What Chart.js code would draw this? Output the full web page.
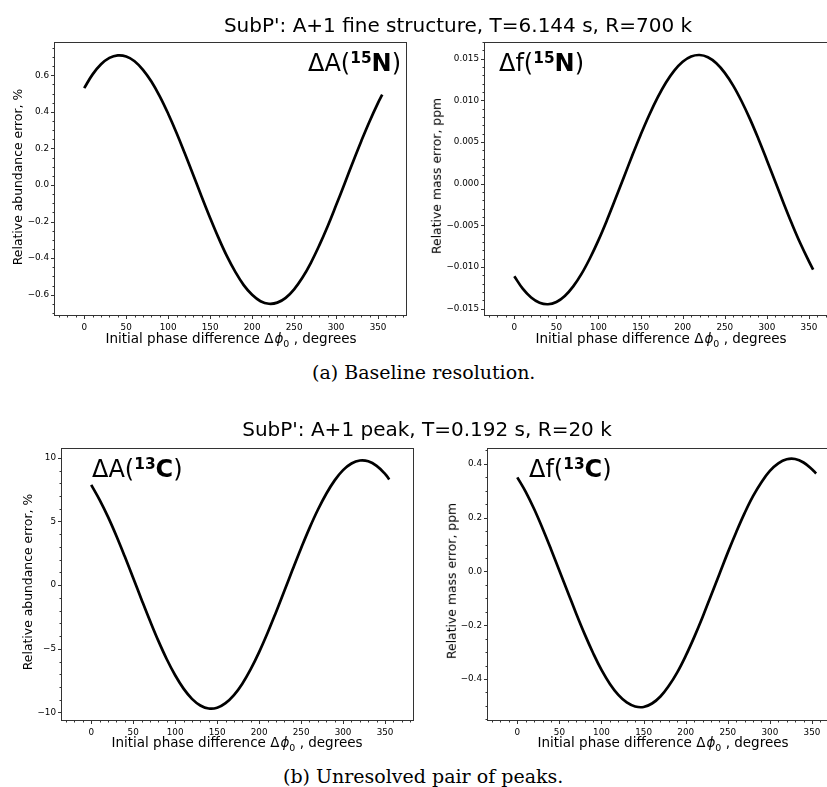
<!DOCTYPE html>
<html>
<head>
<meta charset="utf-8">
<script src="https://cdn.jsdelivr.net/npm/chart.js@4.4.0/dist/chart.umd.min.js"></script>
<style>
  html, body { margin: 0; padding: 0; background: #fff; overflow: hidden; }
  #page { position: relative; width: 827px; height: 787px; overflow: hidden;
          font-family: "DejaVu Sans", sans-serif; color: #000; background: #fff; }
  #page canvas { position: absolute; }
  .t { position: absolute; white-space: nowrap; line-height: 1; }
  .ttl { font-size: 20px; transform: translate(-50%, -50%); }
  .cap { font-family: "DejaVu Serif", serif; font-size: 19px; transform: translateY(-50%); }
  .xl { font-size: 13.5px; transform: translate(-50%, -50%); }
  .yl { font-size: 12.4px; transform: translate(-50%, -50%) rotate(-90deg); }
  .ann { font-size: 24px; transform: translateY(-50%); }
  .ann sup { font-size: 0.64em; font-weight: bold; vertical-align: 0.5em; line-height: 0; }
  .ann b { font-weight: bold; }
  .xl sub { font-size: 0.7em; vertical-align: -0.35em; line-height: 0; }
  .xl i { font-style: italic; padding-left: 1px; }
</style>
</head>
<body>
<div id="page">
  <div class="t ttl" style="left:458px; top:25px;">SubP': A+1 fine structure, T=6.144 s, R=700 k</div>
  <div class="t cap" style="left:312px; top:372px;">(a) Baseline resolution.</div>
  <div class="t ttl" style="left:427px; top:429px;">SubP': A+1 peak, T=0.192 s, R=20 k</div>
  <div class="t cap" style="left:283px; top:776px;">(b) Unresolved pair of peaks.</div>

  <div class="t xl" style="left:231px; top:339px;">Initial phase difference Δ<i>ϕ</i><sub>0</sub> , degrees</div>
  <div class="t xl" style="left:661px; top:339px;">Initial phase difference Δ<i>ϕ</i><sub>0</sub> , degrees</div>
  <div class="t xl" style="left:237px; top:743px;">Initial phase difference Δ<i>ϕ</i><sub>0</sub> , degrees</div>
  <div class="t xl" style="left:663px; top:743px;">Initial phase difference Δ<i>ϕ</i><sub>0</sub> , degrees</div>

  <div class="t yl" style="left:18px; top:177px;">Relative abundance error, %</div>
  <div class="t yl" style="left:437px; top:176px;">Relative mass error, ppm</div>
  <div class="t yl" style="left:28px; top:582px;">Relative abundance error, %</div>
  <div class="t yl" style="left:452px; top:581px;">Relative mass error, ppm</div>

  <div class="t ann" style="left:308px; top:63px;">ΔA(<sup>15</sup><b>N</b>)</div>
  <div class="t ann" style="left:499px; top:63px;">Δf(<sup>15</sup><b>N</b>)</div>
  <div class="t ann" style="left:92px; top:469px;">ΔA(<sup>13</sup><b>C</b>)</div>
  <div class="t ann" style="left:529px; top:469px;">Δf(<sup>13</sup><b>C</b>)</div>
</div>

<script>
// Initial phase difference, degrees
const phaseDeg = [0, 10, 20, 30, 40, 50, 60, 70, 80, 90, 100, 110, 120, 130, 140, 150, 160, 170,
                  180, 190, 200, 210, 220, 230, 240, 250, 260, 270, 280, 290, 300, 310, 320, 330, 340, 350, 355];

// A+1 fine structure (15N), relative abundance error, %
const abundanceErrN15 = [0.530, 0.605, 0.660, 0.695, 0.709, 0.703, 0.677, 0.630, 0.566, 0.485, 0.390, 0.285,
                         0.171, 0.054, -0.065, -0.180, -0.289, -0.389, -0.475, -0.547, -0.600, -0.635, -0.649,
                         -0.643, -0.617, -0.570, -0.506, -0.425, -0.330, -0.225, -0.111, 0.006, 0.125, 0.240,
                         0.349, 0.449, 0.494];

// A+1 fine structure (15N), relative mass error, ppm
const massErrN15 = [-0.01110, -0.01259, -0.01365, -0.01428, -0.01446, -0.01419, -0.01347, -0.01232, -0.01079,
                    -0.00891, -0.00676, -0.00438, -0.00184, 0.00076, 0.00336, 0.00586, 0.00820, 0.01031,
                    0.01213, 0.01359, 0.01465, 0.01528, 0.01546, 0.01519, 0.01447, 0.01332, 0.01179, 0.00991,
                    0.00776, 0.00538, 0.00284, 0.00025, -0.00236, -0.00486, -0.00720, -0.00931, -0.01030];

// A+1 unresolved peak (13C), relative abundance error, %
const abundanceErrC13 = [7.88, 6.70, 5.36, 3.86, 2.24, 0.56, -1.14, -2.80, -4.38, -5.82, -7.08, -8.13, -8.93,
                         -9.45, -9.69, -9.63, -9.27, -8.64, -7.74, -6.60, -5.26, -3.76, -2.14, -0.46, 1.24,
                         2.90, 4.48, 5.92, 7.18, 8.23, 9.03, 9.55, 9.79, 9.73, 9.37, 8.74, 8.30];

// A+1 unresolved peak (13C), relative mass error, ppm
const massErrC13 = [0.350, 0.296, 0.232, 0.160, 0.083, 0.003, -0.077, -0.157, -0.233, -0.303, -0.366, -0.418,
                    -0.459, -0.487, -0.502, -0.504, -0.491, -0.465, -0.425, -0.375, -0.314, -0.245, -0.170,
                    -0.090, -0.010, 0.070, 0.146, 0.217, 0.280, 0.332, 0.374, 0.402, 0.417, 0.418, 0.405,
                    0.380, 0.364];

// Tick values and labels
const phaseTicks = [0, 50, 100, 150, 200, 250, 300, 350];
const phaseTickLabels = ['0', '50', '100', '150', '200', '250', '300', '350'];
const abundN15Ticks = [-0.6, -0.4, -0.2, 0, 0.2, 0.4, 0.6];
const abundN15TickLabels = ['\u22120.6', '\u22120.4', '\u22120.2', '0.0', '0.2', '0.4', '0.6'];
const massN15Ticks = [-0.015, -0.010, -0.005, 0, 0.005, 0.010, 0.015];
const massN15TickLabels = ['\u22120.015', '\u22120.010', '\u22120.005', '0.000', '0.005', '0.010', '0.015'];
const abundC13Ticks = [-10, -5, 0, 5, 10];
const abundC13TickLabels = ['\u221210', '\u22125', '0', '5', '10'];
const massC13Ticks = [-0.4, -0.2, 0, 0.2, 0.4];
const massC13TickLabels = ['\u22120.4', '\u22120.2', '0.0', '0.2', '0.4'];

Chart.defaults.font.family = '"DejaVu Sans", sans-serif';

const Y_AXIS_W = 54;   // room for the y tick labels
const X_AXIS_H = 22;   // room for the x tick labels
const PAD_TOP = 12;

// Axes frame plus matplotlib-style major/minor tick marks
const frameTicks = {
  id: 'frameTicks',
  afterDraw(chart, args, opts) {
    const { ctx, chartArea: a, scales: { x, y } } = chart;
    const L = Math.round(a.left) + 0.5, R = Math.round(a.right) - 0.5;
    const T = Math.round(a.top) + 0.5, B = Math.round(a.bottom) - 0.5;
    ctx.save();
    ctx.strokeStyle = '#333';
    ctx.lineWidth = 1;
    ctx.strokeRect(L, T, R - L, B - T);
    ctx.beginPath();
    const isMajor = (v, step) => Math.abs(v / step - Math.round(v / step)) < 1e-6;
    for (let k = Math.ceil(x.min / opts.xMinor); k * opts.xMinor <= x.max; k++) {
      const v = k * opts.xMinor;
      const px = Math.round(x.getPixelForValue(v)) + 0.5;
      const len = isMajor(v, opts.xMajor) ? 3.5 : 2;
      ctx.moveTo(px, B); ctx.lineTo(px, B + len);
    }
    for (let k = Math.ceil(y.min / opts.yMinor - 1e-9); k * opts.yMinor <= y.max + 1e-12; k++) {
      const v = k * opts.yMinor;
      const py = Math.round(y.getPixelForValue(v)) + 0.5;
      const len = isMajor(v, opts.yMajor) ? 3.5 : 2;
      ctx.moveTo(L, py); ctx.lineTo(L - len, py);
    }
    ctx.stroke();
    ctx.restore();
  }
};

const panels = [
  { values: abundanceErrN15, yTicks: abundN15Ticks, yLabels: abundN15TickLabels,
    yMin: -0.716, yMax: 0.782, yMajor: 0.2, yMinor: 0.05, area: { l: 54, t: 42, r: 407, b: 316 } },
  { values: massErrN15, yTicks: massN15Ticks, yLabels: massN15TickLabels,
    yMin: -0.01587, yMax: 0.01702, yMajor: 0.005, yMinor: 0.001, area: { l: 484, t: 42, r: 838, b: 316 } },
  { values: abundanceErrC13, yTicks: abundC13Ticks, yLabels: abundC13TickLabels,
    yMin: -10.67, yMax: 10.77, yMajor: 5, yMinor: 1, area: { l: 61, t: 448, r: 414, b: 721 } },
  { values: massErrC13, yTicks: massC13Ticks, yLabels: massC13TickLabels,
    yMin: -0.556, yMax: 0.459, yMajor: 0.2, yMinor: 0.05, area: { l: 487, t: 448, r: 841, b: 721 } }
];

const page = document.getElementById('page');

panels.forEach(p => {
  const cv = document.createElement('canvas');
  const w = Y_AXIS_W + (p.area.r - p.area.l) + 6;
  const h = PAD_TOP + (p.area.b - p.area.t) + X_AXIS_H;
  cv.width = w; cv.height = h;
  cv.style.width = w + 'px'; cv.style.height = h + 'px';
  cv.style.left = (p.area.l - Y_AXIS_W) + 'px';
  cv.style.top = (p.area.t - PAD_TOP) + 'px';
  page.insertBefore(cv, page.firstChild);

  new Chart(cv.getContext('2d'), {
    type: 'line',
    data: {
      datasets: [{
        data: phaseDeg.map((d, i) => ({ x: d, y: p.values[i] })),
        borderColor: '#000',
        borderWidth: 2.7,
        pointRadius: 0,
        fill: false,
        tension: 0.4
      }]
    },
    options: {
      responsive: false,
      animation: false,
      devicePixelRatio: 1,
      layout: { padding: { top: PAD_TOP, right: 6, left: 0, bottom: 0 } },
      plugins: {
        legend: { display: false },
        tooltip: { enabled: false },
        frameTicks: { xMajor: 50, xMinor: 10, yMajor: p.yMajor, yMinor: p.yMinor }
      },
      scales: {
        x: {
          type: 'linear', min: -36, max: 384.5,
          grid: { display: false, drawTicks: false },
          border: { display: false },
          afterBuildTicks: s => { s.ticks = phaseTicks.map(v => ({ value: v })); },
          afterFit: s => { s.height = X_AXIS_H; },
          ticks: { autoSkip: false, maxRotation: 0, color: '#000', padding: 6,
                   font: { size: 8.8 }, callback: (v, i) => phaseTickLabels[i] }
        },
        y: {
          type: 'linear', min: p.yMin, max: p.yMax,
          grid: { display: false, drawTicks: false },
          border: { display: false },
          afterBuildTicks: s => { s.ticks = p.yTicks.map(v => ({ value: v })); },
          afterFit: s => { s.width = Y_AXIS_W; },
          ticks: { autoSkip: false, color: '#000', padding: 5,
                   font: { size: 8.8 }, callback: (v, i) => p.yLabels[i] }
        }
      }
    },
    plugins: [frameTicks]
  });
});
</script>
</body>
</html>
